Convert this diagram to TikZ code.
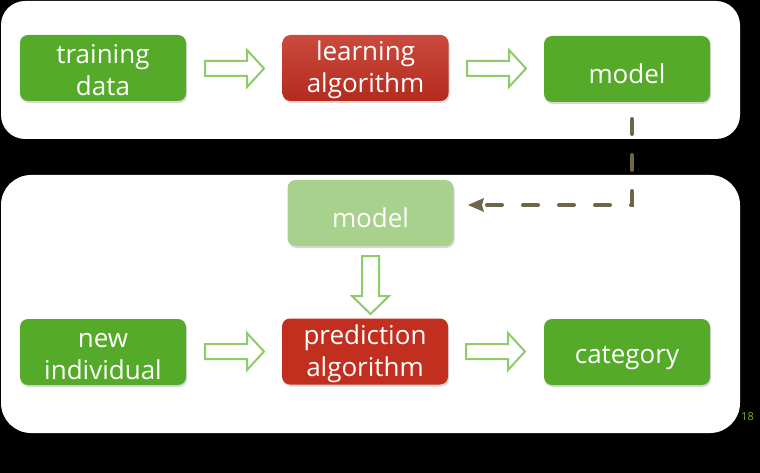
\documentclass[tikz,border=0pt]{standalone}
\usepackage{fontspec}
\setmainfont{Open Sans}
\usetikzlibrary{shadows}
\definecolor{boxgreen}{HTML}{56AA29}
\definecolor{lightgreen}{HTML}{A8D18D}
\definecolor{redtop}{HTML}{CA4B3E}
\definecolor{redbot}{HTML}{B42A1D}
\definecolor{predred}{HTML}{C22F1E}
\definecolor{arrowgreen}{HTML}{8FCB69}
\definecolor{dashbrown}{HTML}{6E6747}
\definecolor{pagegreen}{HTML}{7AB51D}
\newcommand{\lowerstrut}{\rule{0pt}{29pt}}
\newcommand{\twostrut}{\rule{0pt}{24pt}}
\tikzset{
  panel/.style={fill=white, draw=none},
  stepbox/.style={rounded corners=8pt, minimum width=166pt, minimum height=66pt,
    text=white, align=center, inner sep=0pt,
    font=\fontsize{26}{32}\selectfont,
    drop shadow={shadow xshift=1pt, shadow yshift=-2pt, opacity=0.25, fill=black!60}},
  greenbox/.style={stepbox, fill=boxgreen},
  redbox/.style={stepbox, top color=redtop, bottom color=redbot},
  predbox/.style={stepbox, fill=predred},
  lightbox/.style={stepbox, fill=lightgreen, drop shadow={opacity=0}},
  hollow/.style={draw=arrowgreen, line width=2pt, fill=white, line join=miter},
  dashlink/.style={draw=dashbrown, line width=4pt, dash pattern=on 15pt off 21pt, line cap=round}
}
\newcommand{\harrow}[2]{% x of tail, y of centre: rightward block arrow
  \path[hollow] (#1,#2-7.5) -- ++(42,0) -- ++(0,-11) -- ++(17,18.5) -- ++(-17,18.5) -- ++(0,-11) -- ++(-42,0) -- cycle;}
\newcommand{\varrowdown}[2]{% x of centre, y of tail: downward block arrow
  \path[hollow] (#1-8.5,#2) -- ++(17,0) -- ++(0,40) -- ++(10,0) -- ++(-18.5,18) -- ++(-18.5,-18) -- ++(10,0) -- cycle;}
\begin{document}
\begin{tikzpicture}[x=1pt,y=-1pt]
\fill[black] (0,0) rectangle (760,473);
\useasboundingbox (0,0) rectangle (760,473);
% panels
\path[panel, rounded corners=24pt] (1,1) rectangle (740,139);
\path[panel, rounded corners=30pt] (1,175) rectangle (740,433);
% top row
\node[greenbox] (td) at (103,68) {\twostrut training\\data};
\node[redbox] (la) at (365.5,68) {\twostrut learning\\algorithm};
\node[greenbox] (m1) at (627,69) {\lowerstrut model};
% bottom
\node[lightbox] (m2) at (370.5,213) {\lowerstrut model};
\node[greenbox] (ni) at (103,352) {\twostrut new\\individual};
\node[predbox] (pa) at (365,351.5) {\twostrut prediction\\algorithm};
\node[greenbox] (cat) at (627,352) {\lowerstrut category};
% hollow arrows
\harrow{205}{68.5}
\harrow{467}{68.5}
\harrow{205}{351.5}
\harrow{466}{351.5}
\varrowdown{370.5}{256}
% dashed link from model (top) to model (bottom)
\coordinate (dstart) at (632,119);
\coordinate (dturn) at (632,205);
\coordinate (dtip) at (468,205);
\draw[dashlink] (dstart) -- (dturn) -- ([xshift=17pt]dtip);
\fill[dashbrown] (dtip) -- ++(16,-7) -- ++(-2,7) -- ++(2,7) -- cycle;
% page number
\node[text=pagegreen, font=\fontsize{11}{12}\selectfont, inner sep=0pt] (pg) at (747.5,417) {18};
\end{tikzpicture}
\end{document}
